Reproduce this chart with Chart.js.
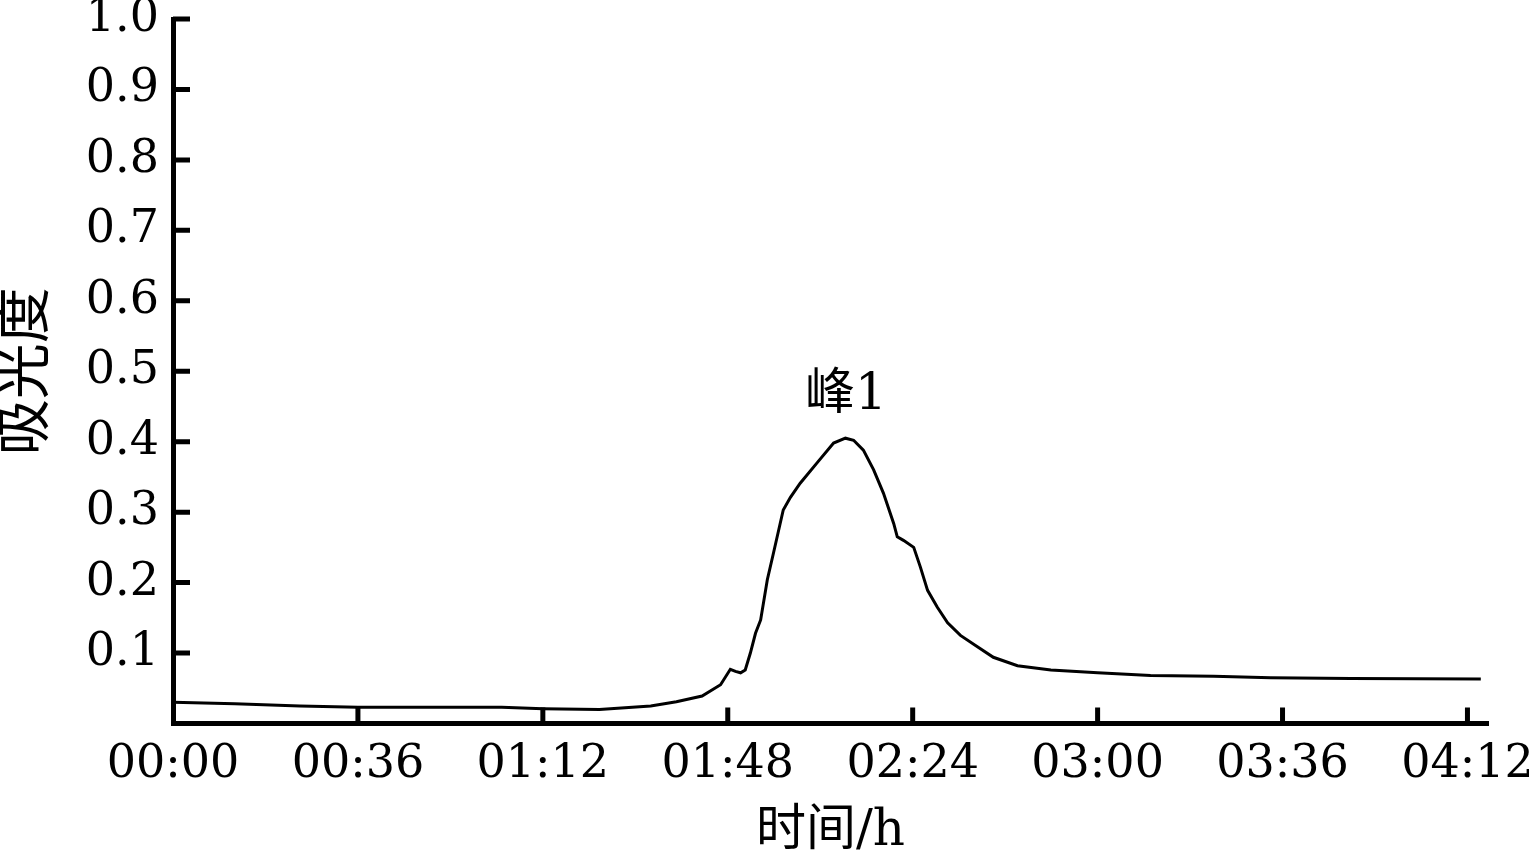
<!DOCTYPE html>
<html>
<head>
<meta charset="utf-8">
<script src="https://cdn.jsdelivr.net/npm/chart.js@4/dist/chart.umd.min.js"></script>
<style>
    html, body { margin: 0; padding: 0; background: #fff; }
    #wrap { width: 1529px; height: 857px; }
</style>
</head>
<body>
<div id="wrap"><canvas id="absorbance"></canvas></div>
<script>
// time in minutes, absorbance
const times = [0, 12, 24.7, 36, 50, 64, 72, 83, 93, 98, 103, 106.6, 108.5, 109.5, 110.5, 111.4, 112.4, 113.4, 114.4, 115.7, 116.9, 118.8, 120.2, 122.1, 125.5, 128.6, 130.9, 132.5, 134.4, 136.4, 138.3, 140.3, 141.0, 142.2, 144.2, 145.5, 146.9, 148.8, 150.8, 153.3, 156.6, 159.7, 164.4, 170.9, 180, 190.3, 202.6, 213.7, 229.3, 254.6];
const absorbance = [0.030, 0.028, 0.025, 0.023, 0.023, 0.023, 0.021, 0.020, 0.025, 0.031, 0.039, 0.055, 0.077, 0.074, 0.072, 0.076, 0.100, 0.128, 0.147, 0.204, 0.242, 0.303, 0.321, 0.341, 0.371, 0.398, 0.405, 0.402, 0.388, 0.360, 0.327, 0.284, 0.265, 0.260, 0.250, 0.222, 0.189, 0.165, 0.143, 0.125, 0.109, 0.094, 0.082, 0.076, 0.072, 0.068, 0.067, 0.065, 0.064, 0.063];
const xTicks = [0, 36, 72, 108, 144, 180, 216, 252];
const yTicks = [0.1, 0.2, 0.3, 0.4, 0.5, 0.6, 0.7, 0.8, 0.9, 1.0];
const peakLabel = { text: '峰1', x: 131, y: 0.465 };

const serif = '"DejaVu Serif", "Noto Sans CJK SC", serif';

const pad2 = n => String(n).padStart(2, '0');
const toClock = m => pad2(Math.floor(m / 60)) + ':' + pad2(m % 60);

// inward tick marks + the peak label
const marksPlugin = {
    id: 'marks',
    afterDraw: chart => {
        const c = chart.ctx;
        const xs = chart.scales.x;
        const ys = chart.scales.y;
        const area = chart.chartArea;
        c.save();
        c.strokeStyle = '#000';
        c.lineWidth = 5;
        c.beginPath();
        yTicks.forEach(v => {
            const py = ys.getPixelForValue(v);
            c.moveTo(area.left, py);
            c.lineTo(area.left + 17, py);
        });
        xTicks.forEach(v => {
            if (v === 0) return;
            const px = xs.getPixelForValue(v);
            c.moveTo(px, area.bottom);
            c.lineTo(px, area.bottom - 16);
        });
        c.stroke();

        c.fillStyle = '#000';
        c.font = '50px ' + serif;
        c.textAlign = 'center';
        c.textBaseline = 'middle';
        c.fillText(peakLabel.text, xs.getPixelForValue(peakLabel.x), ys.getPixelForValue(peakLabel.y));
        c.restore();
    }
};

const ctx = document.getElementById('absorbance').getContext('2d');

const absorbanceChart = new Chart(ctx, {
    type: 'scatter',
    data: {
        datasets: [{
            data: times.map((t, i) => ({ x: t, y: absorbance[i] })),
            showLine: true,
            borderColor: '#000',
            borderWidth: 3,
            pointRadius: 0,
            tension: 0
        }]
    },
    options: {
        responsive: true,
        maintainAspectRatio: false,
        animation: false,
        layout: { padding: { top: 19, right: 41, left: 0, bottom: 0 } },
        plugins: {
            legend: { display: false },
            tooltip: { enabled: false }
        },
        scales: {
            x: {
                type: 'linear',
                min: 0,
                max: 256,
                afterBuildTicks: scale => {
                    scale.ticks = xTicks.map(v => ({ value: v }));
                },
                afterFit: scale => {
                    scale.height = 133.5;
                    scale.paddingLeft = 0;
                    scale.paddingRight = 0;
                },
                ticks: {
                    color: '#000',
                    padding: 14,
                    maxRotation: 0,
                    autoSkip: false,
                    font: { family: serif, size: 46 },
                    callback: v => toClock(v)
                },
                grid: { display: true, drawOnChartArea: false, drawTicks: false },
                border: { display: true, color: '#000', width: 5 },
                title: {
                    display: true,
                    text: '时间/h',
                    color: '#000',
                    padding: 0,
                    font: { family: serif, size: 50, lineHeight: 1.0 }
                }
            },
            y: {
                min: 0,
                max: 1,
                afterBuildTicks: scale => {
                    scale.ticks = yTicks.map(v => ({ value: v }));
                },
                afterFit: scale => {
                    scale.width = 173;
                    scale.paddingTop = 0;
                    scale.paddingBottom = 0;
                },
                ticks: {
                    color: '#000',
                    padding: 14,
                    autoSkip: false,
                    font: { family: serif, size: 46 },
                    callback: v => v.toFixed(1)
                },
                grid: { display: true, drawOnChartArea: false, drawTicks: false },
                border: { display: true, color: '#000', width: 5 },
                title: {
                    display: true,
                    text: '吸光度',
                    color: '#000',
                    padding: 0,
                    font: { family: serif, size: 56, lineHeight: 1.0 }
                }
            }
        }
    },
    plugins: [marksPlugin]
});
</script>
</body>
</html>
